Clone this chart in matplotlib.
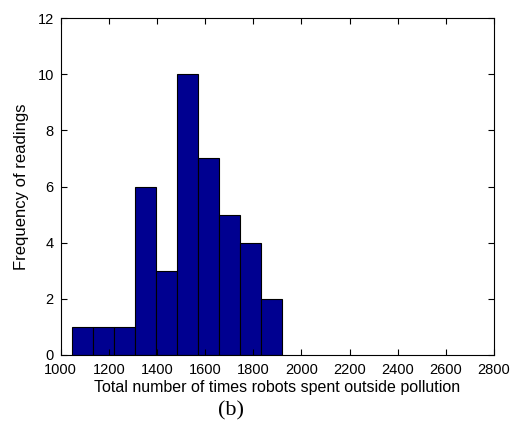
import numpy as np
import matplotlib
matplotlib.use("Agg")
import matplotlib.pyplot as plt

# histogram counts
bin_left = 1046
bin_width = 87.4
counts = [1, 1, 1, 6, 3, 10, 7, 5, 4, 2]
edges = bin_left + bin_width * np.arange(len(counts) + 1)

xticks = [1000, 1200, 1400, 1600, 1800, 2000, 2200, 2400, 2600, 2800]
yticks = [0, 2, 4, 6, 8, 10, 12]

plt.rcParams['font.family'] = ['Liberation Sans', 'DejaVu Sans']

fig = plt.figure(figsize=(5.12, 4.29), dpi=100)
ax = fig.add_axes([0.1186, 0.1725, 0.8464, 0.7855])

ax.bar(edges[:-1], counts, width=np.diff(edges), align='edge',
       color='#000090', edgecolor='black', linewidth=0.8)

ax.set_xlim(1000, 2800)
ax.set_ylim(0, 12)
ax.set_xticks(xticks)
ax.set_yticks(yticks)
ax.tick_params(direction='in', top=True, right=True, labelsize=10.5, length=4)
ax.tick_params(axis='x', pad=5.5)
ax.tick_params(axis='y', pad=5)
for s in ax.spines.values():
    s.set_linewidth(0.8)

ax.set_xlabel('Total number of times robots spent outside pollution', fontsize=11.5, labelpad=2.5)
ax.set_ylabel('Frequency of readings', fontsize=12, labelpad=6)

fig.text(0.451, 0.042, '(b)', fontsize=16, family='Liberation Serif', ha='center', va='center')

fig.savefig('out.png', dpi=100)
